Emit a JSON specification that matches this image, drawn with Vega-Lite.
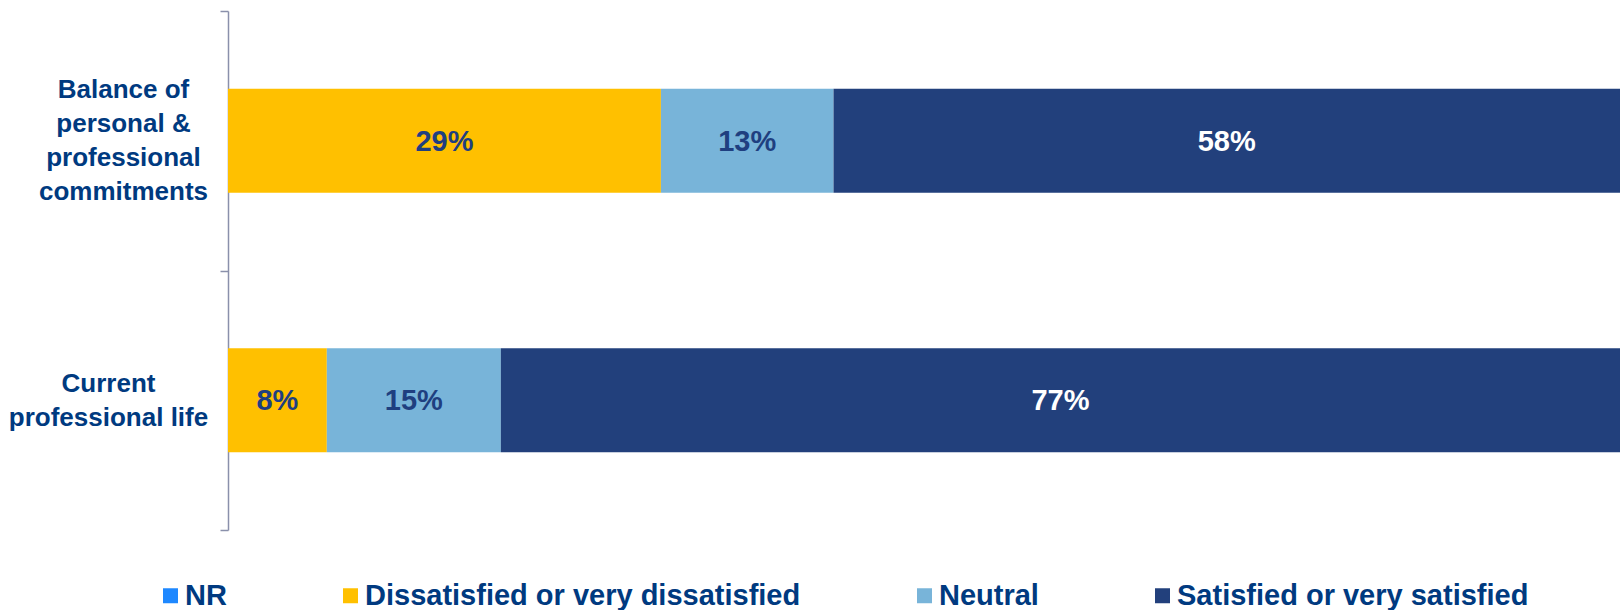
{
  "$schema": "https://vega.github.io/schema/vega-lite/v6.json",
  "width": 1392,
  "height": 519,
  "autosize": {"type": "none"},
  "padding": {"left": 228, "top": 11, "right": 0, "bottom": 80},
  "background": "white",
  "config": {"view": {"stroke": null}, "font": "Liberation Sans"},
  "data": {
    "values": [
      {"item": "Balance of personal & professional commitments", "category": "NR", "value": 0, "label": "0%"},
      {"item": "Balance of personal & professional commitments", "category": "Dissatisfied or very dissatisfied", "value": 31.1, "label": "29%"},
      {"item": "Balance of personal & professional commitments", "category": "Neutral", "value": 12.4, "label": "13%"},
      {"item": "Balance of personal & professional commitments", "category": "Satisfied or very satisfied", "value": 56.5, "label": "58%"},
      {"item": "Current professional life", "category": "NR", "value": 0, "label": "0%"},
      {"item": "Current professional life", "category": "Dissatisfied or very dissatisfied", "value": 7.1, "label": "8%"},
      {"item": "Current professional life", "category": "Neutral", "value": 12.5, "label": "15%"},
      {"item": "Current professional life", "category": "Satisfied or very satisfied", "value": 80.4, "label": "77%"}
    ]
  },
  "transform": [
    {"stack": "value", "groupby": ["item"], "sort": [{"field": "category", "order": "ascending"}], "as": ["v0", "v1"]},
    {"calculate": "(datum.v0 + datum.v1) / 2", "as": "mid"}
  ],
  "encoding": {
    "y": {
      "field": "item",
      "type": "nominal",
      "sort": null,
      "title": null,
      "scale": {"paddingInner": 0, "paddingOuter": 0},
      "axis": {
        "title": null,
        "domainColor": "#8A90AB",
        "domainWidth": 1.5,
        "tickColor": "#8A90AB",
        "tickWidth": 1.5,
        "tickSize": 8,
        "tickBand": "extent",
        "labelExpr": "datum.value == 'Current professional life' ? ['Current', 'professional life'] : datum.value == 'Balance of personal & professional commitments' ? ['Balance of', 'personal &', 'professional', 'commitments'] : ''",
        "labelAlign": "center",
        "labelBaseline": "middle",
        "labelFont": "Liberation Sans",
        "labelFontSize": 26,
        "labelFontWeight": "bold",
        "labelColor": "#003A80",
        "labelLineHeight": 34,
        "labelLimit": 0,
        "labelPadding": {"condition": {"test": "datum.value == 'Current professional life'", "value": 112}, "value": 97},
        "labelOffset": {"condition": {"test": "datum.value == 'Current professional life'", "value": -17}, "value": -51}
      }
    }
  },
  "layer": [
    {
      "mark": {"type": "bar", "height": {"band": 0.4}},
      "encoding": {
        "x": {"field": "v0", "type": "quantitative", "scale": {"domain": [0, 100]}, "axis": null},
        "x2": {"field": "v1"},
        "color": {
          "field": "category",
          "type": "nominal",
          "scale": {
            "domain": ["NR", "Dissatisfied or very dissatisfied", "Neutral", "Satisfied or very satisfied"],
            "range": ["#1E88FF", "#FFC000", "#78B4D9", "#22407C"]
          },
          "legend": {
            "title": null,
            "orient": "none",
            "direction": "horizontal",
            "columns": 4,
            "legendX": -72,
            "legendY": 570,
            "padding": 0,
            "symbolType": "square",
            "symbolSize": 225,
            "symbolStrokeWidth": 0,
            "symbolOpacity": 1,
            "labelFont": "Liberation Sans",
            "labelFontSize": 29,
            "labelFontWeight": "bold",
            "labelColor": "#003A80",
            "labelOffset": 0,
            "labelLimit": 0,
            "columnPadding": 109
          }
        }
      }
    },
    {
      "transform": [{"filter": "datum.value > 0"}],
      "mark": {"type": "text", "font": "Liberation Sans", "fontSize": 29, "fontWeight": "bold", "baseline": "middle", "align": "center", "dy": 1},
      "encoding": {
        "x": {"field": "mid", "type": "quantitative"},
        "text": {"field": "label"},
        "color": {
          "condition": {"test": "datum.category == 'Satisfied or very satisfied'", "value": "#FFFFFF"},
          "value": "#1F3F80"
        }
      }
    }
  ]
}
